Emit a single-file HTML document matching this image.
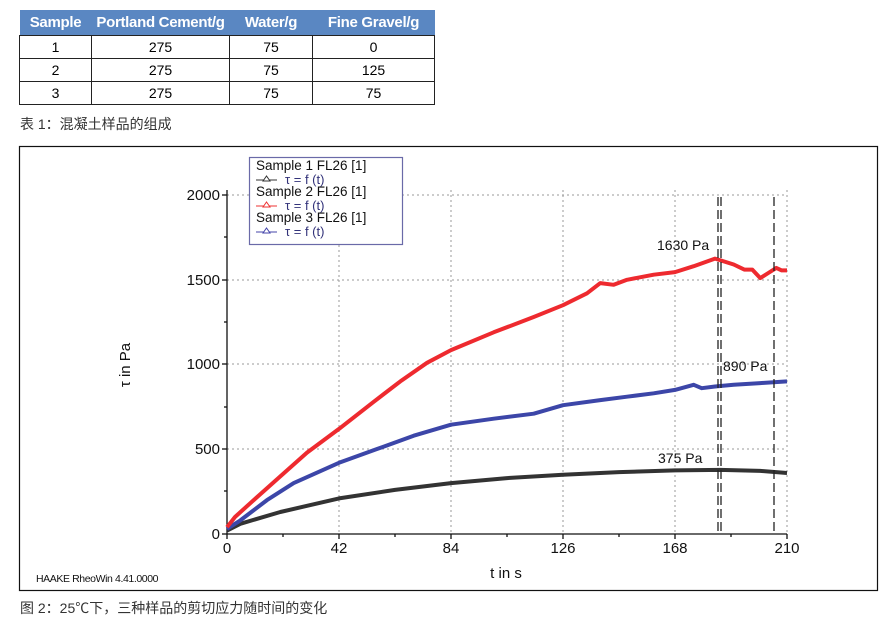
<!DOCTYPE html>
<html><head><meta charset="utf-8"><style>
body{margin:0;width:884px;height:623px;background:#fff;font-family:"Liberation Sans","Noto Sans CJK SC",sans-serif;overflow:hidden;position:relative}
table{position:absolute;left:19px;top:10px;border-collapse:collapse;font-size:14px}
th{background:#5a87c2;color:#fff;font-weight:bold;height:25px;padding:0;font-size:15px;letter-spacing:-0.3px}
td{border:1px solid #222;height:22px;text-align:center;padding:0}
.cap{position:absolute;left:20px;font-size:14px;color:#333}
</style></head><body>
<table>
<tr><th style="width:72px">Sample</th><th style="width:138px">Portland Cement/g</th><th style="width:83px">Water/g</th><th style="width:122px">Fine Gravel/g</th></tr>
<tr><td>1</td><td>275</td><td>75</td><td>0</td></tr>
<tr><td>2</td><td>275</td><td>75</td><td>125</td></tr>
<tr><td>3</td><td>275</td><td>75</td><td>75</td></tr>
</table>
<div class="cap" style="top:114px">表 1：混凝土样品的组成</div>
<div class="cap" style="top:598px">图 2：25℃下，三种样品的剪切应力随时间的变化</div>
<svg id="s" width="884" height="623" style="position:absolute;left:0;top:0" font-family="Liberation Sans,sans-serif">
<rect x="19.5" y="146.5" width="858" height="444" fill="none" stroke="#111" stroke-width="1.2"/>
<g stroke="#999" stroke-dasharray="2,3" stroke-width="1">
<line x1="227" y1="195" x2="787" y2="195"/><line x1="227" y1="280" x2="787" y2="280"/><line x1="227" y1="364" x2="787" y2="364"/><line x1="227" y1="449" x2="787" y2="449"/>
<line x1="339" y1="190" x2="339" y2="534"/><line x1="451" y1="190" x2="451" y2="534"/><line x1="563" y1="190" x2="563" y2="534"/><line x1="675" y1="190" x2="675" y2="534"/><line x1="787" y1="190" x2="787" y2="534"/>
</g>
<g stroke="#111" stroke-width="1.3">
<line x1="227" y1="190" x2="227" y2="534"/><line x1="227" y1="534" x2="787" y2="534"/>
<line x1="222" y1="195" x2="227" y2="195"/><line x1="222" y1="280" x2="227" y2="280"/><line x1="222" y1="364" x2="227" y2="364"/><line x1="222" y1="449" x2="227" y2="449"/><line x1="222" y1="534" x2="227" y2="534"/>
<line x1="224" y1="237" x2="227" y2="237"/><line x1="224" y1="322" x2="227" y2="322"/><line x1="224" y1="407" x2="227" y2="407"/><line x1="224" y1="491" x2="227" y2="491"/>
<line x1="227" y1="534" x2="227" y2="539"/><line x1="339" y1="534" x2="339" y2="539"/><line x1="451" y1="534" x2="451" y2="539"/><line x1="563" y1="534" x2="563" y2="539"/><line x1="675" y1="534" x2="675" y2="539"/><line x1="787" y1="534" x2="787" y2="539"/>
<line x1="283" y1="534" x2="283" y2="537"/><line x1="395" y1="534" x2="395" y2="537"/><line x1="507" y1="534" x2="507" y2="537"/><line x1="619" y1="534" x2="619" y2="537"/><line x1="731" y1="534" x2="731" y2="537"/>
</g>
<g font-size="15" fill="#111" text-anchor="end">
<text x="220" y="200">2000</text><text x="220" y="285">1500</text><text x="220" y="369">1000</text><text x="220" y="454">500</text><text x="220" y="539">0</text>
</g>
<g font-size="15" fill="#111" text-anchor="middle">
<text x="227" y="553">0</text><text x="339" y="553">42</text><text x="451" y="553">84</text><text x="563" y="553">126</text><text x="675" y="553">168</text><text x="787" y="553">210</text>
<text x="506" y="578">t in s</text>
<text transform="translate(130,365) rotate(-90)">τ in Pa</text>
</g>
<text x="36" y="582" font-size="10.5" fill="#111" letter-spacing="-0.4">HAAKE RheoWin 4.41.0000</text>
<g id="curves" fill="none" stroke-width="4" stroke-linejoin="round"></g>
<g stroke="#222" stroke-dasharray="9,4" stroke-width="1.3">
<line x1="718" y1="197" x2="718" y2="534"/><line x1="721" y1="197" x2="721" y2="534"/>
<line x1="774" y1="197" x2="774" y2="534"/>
</g>
<g font-size="14" fill="#111">
<text x="657" y="250">1630 Pa</text><text x="723" y="371">890 Pa</text><text x="658" y="463">375 Pa</text>
</g>
<rect x="249.5" y="157.5" width="153" height="87" fill="#fff" stroke="#6a6aa8" stroke-width="1.2"/>
<g font-size="13.5" fill="#111">
<text x="256" y="170">Sample 1 FL26 [1]</text><text x="256" y="196">Sample 2 FL26 [1]</text><text x="256" y="222">Sample 3 FL26 [1]</text>
</g>
<g font-size="13" fill="#33337a">
<text x="285" y="184">τ = f (t)</text><text x="285" y="210">τ = f (t)</text><text x="285" y="236">τ = f (t)</text>
</g>
<g fill="#fff">
<line x1="256" y1="180" x2="277" y2="180" stroke="#333"/><path d="M263 181 L266.5 176 L270 181 Z" stroke="#333"/>
<line x1="256" y1="206" x2="277" y2="206" stroke="#e33"/><path d="M263 207 L266.5 202 L270 207 Z" stroke="#e33"/>
<line x1="256" y1="232" x2="277" y2="232" stroke="#44a"/><path d="M263 233 L266.5 228 L270 233 Z" stroke="#44a"/>
</g>
</svg>
<script>
var R=[[0,40],[3,100],[10,200],[20,340],[30,480],[42,620],[55,780],[65,900],[75,1010],[84,1085],[100,1190],[115,1280],[126,1350],[135,1420],[140,1480],[145,1470],[150,1500],[160,1530],[168,1545],[175,1580],[183,1625],[186,1610],[190,1590],[194,1560],[197,1560],[200,1510],[203,1540],[206,1570],[208,1555],[210,1555]];
var B=[[0,30],[5,80],[15,200],[25,300],[42,420],[56,500],[70,580],[84,645],[100,680],[115,710],[126,760],[140,790],[150,810],[160,830],[168,850],[175,880],[178,860],[183,870],[190,880],[200,890],[210,900]];
var K=[[0,20],[5,60],[20,130],[42,210],[63,260],[84,300],[105,330],[126,350],[147,365],[168,375],[185,378],[200,372],[210,360]];
function p(a){return a.map(function(q){return (227+q[0]*2.6667).toFixed(1)+","+(534-q[1]*0.1695).toFixed(1)}).join(" ")}
var g=document.getElementById("curves");
[[K,"#333"],[B,"#3c46a8"],[R,"#ee2a2f"]].forEach(function(s){var e=document.createElementNS("http://www.w3.org/2000/svg","polyline");e.setAttribute("points",p(s[0]));e.setAttribute("stroke",s[1]);g.appendChild(e);});
</script>
</body></html>
